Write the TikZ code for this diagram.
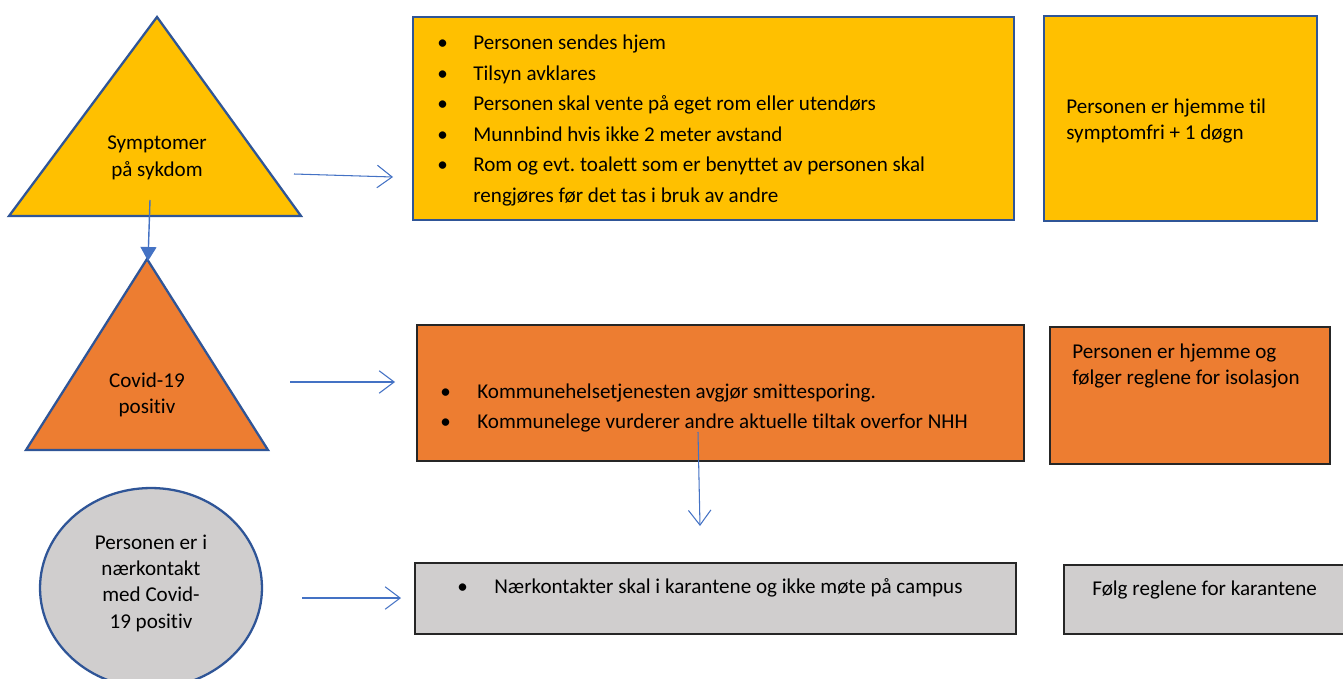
\documentclass[tikz,border=0pt]{standalone}
\usepackage{fontspec}
\setmainfont{Carlito}[Ligatures=NoCommon]
\frenchspacing
\usetikzlibrary{arrows.meta,shapes.geometric}
\definecolor{gulfarge}{HTML}{FFC000}
\definecolor{oransje}{HTML}{ED7D31}
\definecolor{graa}{HTML}{D0CECE}
\definecolor{kant}{HTML}{2F5597}
\definecolor{pil}{HTML}{4472C4}
\tikzset{
	kantlinje/.style={draw=kant,line width=1.3pt,line join=miter},
	svartlinje/.style={draw=black!85,line width=1.3pt},
	boks/.style={rectangle,inner sep=0pt},
	tekst/.style={font=\fontsize{12}{15}\selectfont,inner sep=0pt},
	liste/.style={font=\fontsize{12}{17.4}\selectfont,inner sep=0pt,anchor=west},
	pilen/.style={draw=pil,line width=0.6pt,-{Straight Barb[length=0.3cm,width=0.45cm]}},
}
\newcommand{\pkt}{\textbullet}
\begin{document}
\begin{tikzpicture}[x=0.02cm,y=-0.02cm]
	\useasboundingbox (0,0) rectangle (1343,679);
	
	%Symptomer
	\draw[kantlinje,fill=gulfarge] (157,17)--(301,216)--(9,216)--cycle;
	\node[tekst,align=center] at (157,158) (symp) {Symptomer\\på sykdom};
	\node[boks,kantlinje,fill=gulfarge,minimum width=12.02cm,minimum height=4.06cm] at (713.5,118.5) (tiltak1) {};
	\node[liste] at (437,120) (tiltak1tekst) {\begin{tabular}{@{}p{0.72cm}@{}l@{}}
		\pkt & Personen sendes hjem\\
		\pkt & Tilsyn avklares\\
		\pkt & Personen skal vente på eget rom eller utendørs\\
		\pkt & Munnbind hvis ikke 2 meter avstand\\
		\pkt & Rom og evt. toalett som er benyttet av personen skal\\
		     & rengjøres før det tas i bruk av andre
	\end{tabular}};
	\node[boks,kantlinje,fill=gulfarge,minimum width=5.46cm,minimum height=4.10cm] at (1180.5,118.5) (hjemme1) {};
	\node[tekst,align=left,anchor=west] at (1066,121) (hjemme1tekst) {Personen er hjemme til\\symptomfri + 1 døgn};
	
	%Covid-19 positiv
	\draw[kantlinje,fill=oransje] (147,259)--(268,450)--(26,450)--cycle;
	\node[tekst,align=center] at (147,395) (covid) {Covid-19\\positiv};
	\node[boks,svartlinje,fill=oransje,minimum width=12.14cm,minimum height=2.72cm] at (720.5,393) (tiltak2) {};
	\node[liste] at (440,407.5) (tiltak2tekst) {\begin{tabular}{@{}p{0.74cm}@{}l@{}}
		\pkt & Kommunehelsetjenesten avgjør smittesporing.\\
		\pkt & Kommunelege vurderer andre aktuelle tiltak overfor NHH
	\end{tabular}};
	\node[boks,svartlinje,fill=oransje,minimum width=5.60cm,minimum height=2.74cm] at (1190,395.5) (isolasjon) {};
	\node[tekst,align=left,anchor=west] at (1072,366) (isolasjontekst) {Personen er hjemme og\\følger reglene for isolasjon};
	
	%Naerkontakt
	\node[ellipse,kantlinje,fill=graa,minimum width=4.44cm,minimum height=4.0cm,inner sep=0pt] at (151,588) (naer) {};
	\node[tekst,align=center] at (151,583) (naertekst) {Personen er i\\nærkontakt\\med Covid-\\19 positiv};
	\node[boks,svartlinje,fill=graa,minimum width=12.02cm,minimum height=1.42cm] at (715.5,598.5) (tiltak3) {};
	\node[liste] at (457,587) (tiltak3tekst) {\begin{tabular}{@{}p{0.74cm}@{}l@{}}
		\pkt & Nærkontakter skal i karantene og ikke møte på campus
	\end{tabular}};
	\node[boks,svartlinje,fill=graa,minimum width=5.72cm,minimum height=1.38cm] at (1207,599.5) (karantene) {};
	\node[tekst,anchor=west] at (1092,590) (karantenetekst) {Følg reglene for karantene};
	
	%Piler
	\coordinate (p1a) at (294,174);
	\coordinate (p1b) at (393,177);
	\coordinate (p2a) at (290,382);
	\coordinate (p2b) at (395,382);
	\coordinate (p3a) at (302,598);
	\coordinate (p3b) at (401,598);
	\coordinate (p4a) at (698,432);
	\coordinate (p4b) at (700,526);
	\coordinate (sympfot) at (150,200);
	\coordinate (covidtopp) at (148,261);
	\draw[pilen] (p1a)--(p1b);
	\draw[pilen] (p2a)--(p2b);
	\draw[pilen] (p3a)--(p3b);
	\draw[pilen] (p4a)--(p4b);
	\draw[draw=pil,line width=0.8pt,-{Triangle[length=0.28cm,width=0.32cm]}] (sympfot)--(covidtopp);
	
\end{tikzpicture}
\end{document}
